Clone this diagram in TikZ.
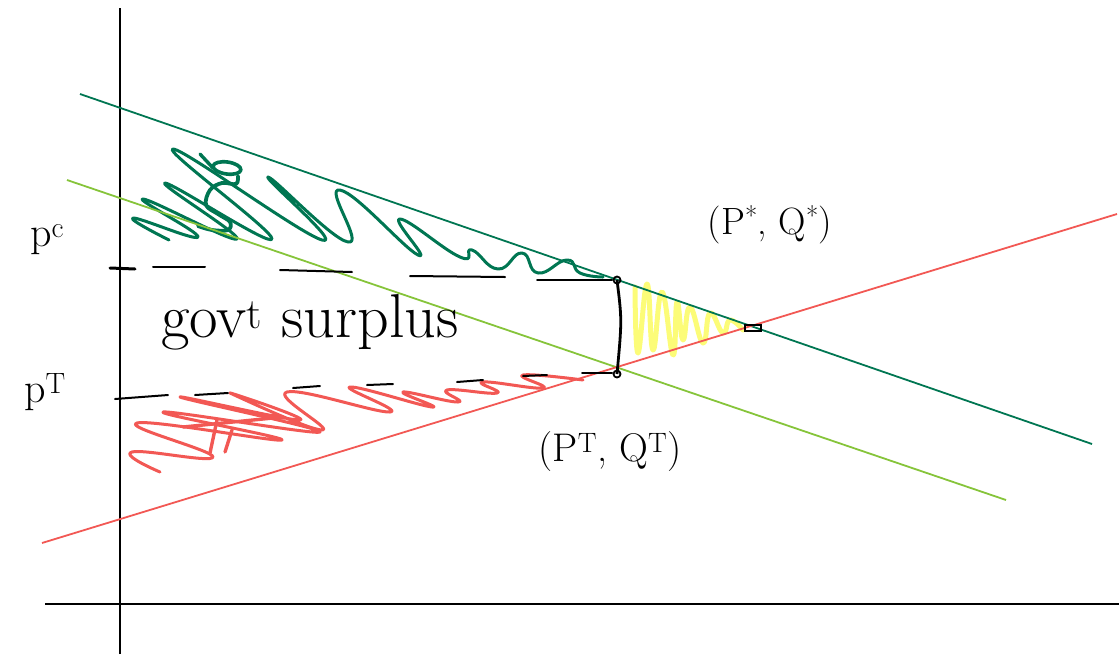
\documentclass[tikz,border=0pt]{standalone}
\begin{document}
\begin{tikzpicture}[x=1pt,y=-1pt,
  axis/.style={line width=2pt,black},
  demand/.style={line width=1.8pt,color=dgreen},
  newdemand/.style={line width=1.8pt,color=lgreen},
  supply/.style={line width=1.8pt,color=sred},
  dashseg/.style={line width=2pt,black,line cap=round},
  scrib/.style={line width=3pt,line cap=round,line join=round},
  lbl/.style={inner sep=0pt,font=\fontsize{42}{46}\selectfont}]
\definecolor{dgreen}{RGB}{0,118,82}
\definecolor{lgreen}{RGB}{134,196,58}
\definecolor{sred}{RGB}{242,88,84}
\definecolor{syel}{RGB}{252,252,120}
\useasboundingbox (0,0) rectangle (1119,654);
% axes
\coordinate (ytop) at (120,8);
\coordinate (ybot) at (120,654);
\coordinate (xl) at (45,604);
\coordinate (xr) at (1119,604);
\draw[axis] (ybot) -- (ytop);
\draw[axis] (xl) -- (xr);
% curves
\coordinate (d1) at (80,94);
\coordinate (d2) at (1092,444);
\coordinate (n1) at (67,180);
\coordinate (n2) at (1006,500);
\coordinate (s1) at (42,543);
\coordinate (s2) at (1117,214);
% scribbles (drawn first)
\draw[scrib,dgreen] plot[smooth,tension=0.85] coordinates {(169,240)(133,218)(198,237)(143,199)(237,239)(165,183)(272,239)(173,149)(322,240)(268,177)(348,242)(340,190)(418,255)(400,219)(460,257)(472,250)(498,269)(522,253)(538,273)(567,260)(580,273)(603,277)};
\draw[scrib,dgreen,line width=3.6pt,rotate around={-8:(227,168)}] (227,168) ellipse [x radius=14,y radius=6];
\draw[scrib,dgreen,line width=3.4pt] (200,154) -- (213,168);
\draw[scrib,dgreen,line width=3.8pt] plot[smooth,tension=0.6] coordinates {(238,176)(236,184)(222,183)(210,190)(206,205)(218,214)(230,222)(228,230)(212,230)(198,226)};
\draw[scrib,sred] plot[smooth,tension=0.8] coordinates {(160,472)(132,452)(213,457)(137,423)(282,440)(163,412)(320,432)(180,397)(300,420)(230,393)(322,430)(287,392)(390,412)(350,387)(432,407)(403,392)(458,402)(447,390)(497,393)(483,382)(543,388)(523,375)(583,380)};
\draw[scrib,sred,line width=3.4pt] (183,427) -- (283,417);
\draw[scrib,sred,line width=3.4pt] (217,420) -- (210,453);
\draw[scrib,sred,line width=3.4pt] (232,430) -- (225,452);
\draw[scrib,syel,line width=5pt] plot[smooth,tension=0.8] coordinates {(635,287)(638,353)(647,284)(653,350)(662,292)(673,355)(677,302)(683,340)(690,307)(703,343)(710,313)(723,333)(730,320)(743,330)};
% lines
\draw[demand] (d1) -- (d2);
\draw[newdemand] (n1) -- (n2);
\draw[supply] (s1) -- (s2);
% dashed price lines
\draw[dashseg,line width=3pt] (110,268) -- (135,269);
\draw[dashseg] (153,267) -- (205,267);
\draw[dashseg] (280,270) -- (352,272);
\draw[dashseg] (410,276) -- (505,277);
\draw[dashseg] (537,280) -- (612,280);
\draw[dashseg] (115,399) -- (168,395);
\draw[dashseg] (195,395) -- (228,393);
\draw[dashseg] (293,388) -- (320,386);
\draw[dashseg] (367,385) -- (393,384);
\draw[dashseg] (457,382) -- (483,380);
\draw[dashseg] (523,376) -- (547,375);
\draw[dashseg] (582,373) -- (612,373);
% wedge
\coordinate (pc) at (617,280);
\coordinate (pt) at (617,374);
\draw[line width=2.8pt,black] (pc) .. controls (622,320) .. (pt);
\draw[line width=1.8pt] (pc) circle (3.5);
\draw[line width=1.8pt] (pt) circle (3.5);
\node[draw,line width=1.6pt,minimum width=16pt,minimum height=6pt,inner sep=0pt] (eq) at (753,328) {};
% labels
\node[lbl] (lpc) at (47,240) {p\textsuperscript{c}};
\node[lbl] (lpt) at (45,392) {p\textsuperscript{T}};
\node[lbl,font=\fontsize{62}{66}\selectfont] (gs) at (310,322) {gov\textsuperscript{t} surplus};
\node[lbl,font=\fontsize{38}{42}\selectfont] (star) at (770,225) {(P\textsuperscript{*}, Q\textsuperscript{*})};
\node[lbl,font=\fontsize{40}{44}\selectfont] (tax) at (610,452) {(P\textsuperscript{T}, Q\textsuperscript{T})};
\end{tikzpicture}
\end{document}
